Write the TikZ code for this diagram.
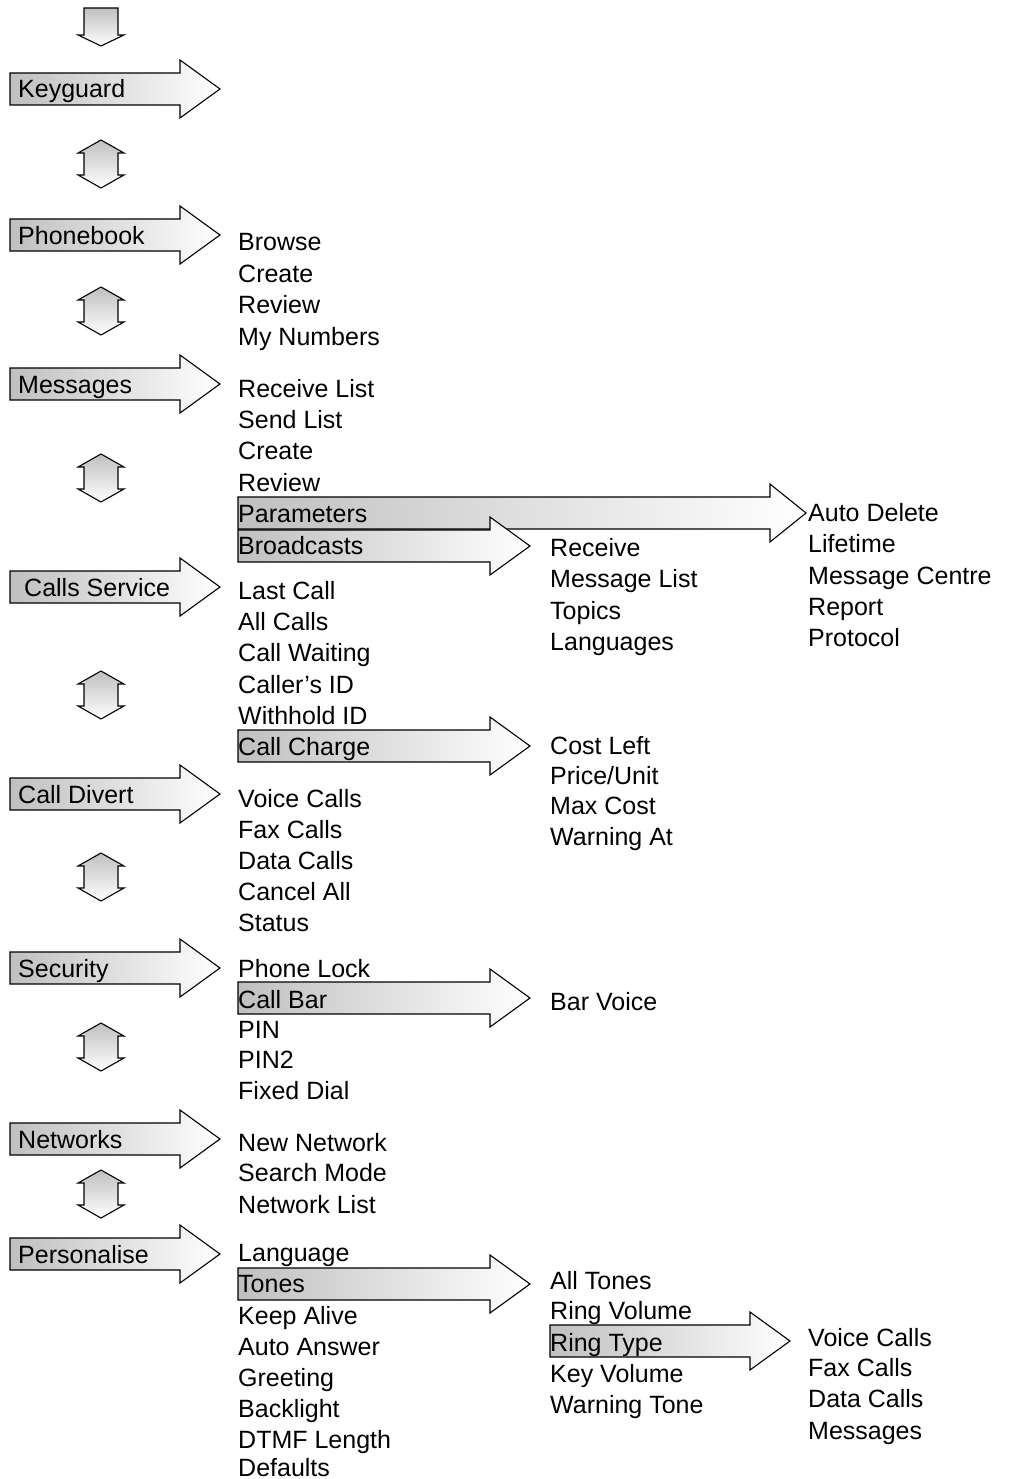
\documentclass[tikz,border=0pt]{standalone}
\usepackage{fontspec}
\setmainfont{Liberation Sans}
\newcommand\hArrowShape[4]{%
  \shadedraw[harrowbox] (#1,#4-16) -- (#2,#4-16) -- (#2,#4-29) -- (#3,#4) -- (#2,#4+29) -- (#2,#4+16) -- (#1,#4+16) -- cycle;}
\newcommand\vDArrowShape[1]{%
  \shadedraw[varrowbox] (101,#1-24) -- (124,#1-11) -- (118,#1-11) -- (118,#1+11) -- (124,#1+11) -- (101,#1+24) -- (78,#1+11) -- (84,#1+11) -- (84,#1-11) -- (78,#1-11) -- cycle;}
\begin{document}
\begin{tikzpicture}[x=1pt,y=-1pt,
  harrowbox/.style={draw=black,line width=1.1pt,line join=miter,left color=gray!50,right color=white},
  varrowbox/.style={draw=black,line width=1.1pt,line join=miter,top color=gray!50,bottom color=white},
  item/.style={anchor=base west,inner sep=0pt,font=\fontsize{25}{30}\selectfont}]
\useasboundingbox (0,0) rectangle (1010,1479);
% top down arrow
\shadedraw[varrowbox] (84,8) -- (118,8) -- (118,35) -- (124,35) -- (101,46) -- (78,35) -- (84,35) -- cycle;
% double arrows
\foreach \c in {164,311,478,695,877,1047,1194} {\vDArrowShape{\c}}
% main arrows
\foreach \c in {89,235,384,587,794,968,1139,1254} {\hArrowShape{10}{180}{220}{\c}}
% sub arrows
\hArrowShape{238}{770}{806}{513}
\hArrowShape{238}{490}{530}{546}
\hArrowShape{238}{490}{530}{746}
\hArrowShape{238}{490}{530}{998}
\hArrowShape{238}{490}{530}{1284}
\hArrowShape{550}{750}{790}{1341}
% main labels
\node[item] (keyguard) at (18,98) {Keyguard};
\node[item] (phonebook) at (18,244) {Phonebook};
\node[item] (messages) at (18,393) {Messages};
\node[item] (callsservice) at (24,596) {Calls Service};
\node[item] (calldivert) at (18,803) {Call Divert};
\node[item] (security) at (18,977) {Security};
\node[item] (networks) at (18,1148) {Networks};
\node[item] (personalise) at (18,1263) {Personalise};
% lists
\foreach \t/\y [count=\i] in {Browse/242,Create/273,Review/304,My Numbers/336}
  {\node[item] (pb\i) at (238,\y+9) {\t};}
\foreach \t/\y [count=\i] in {Receive List/388,Send List/419,Create/450,Review/482,Parameters/513,Broadcasts/545}
  {\node[item] (ms\i) at (238,\y+9) {\t};}
\foreach \t/\y [count=\i] in {Auto Delete/512,Lifetime/543,Message Centre/575,Report/606,Protocol/637}
  {\node[item] (pa\i) at (808,\y+9) {\t};}
\foreach \t/\y [count=\i] in {Receive/547,Message List/578,Topics/610,Languages/641}
  {\node[item] (bc\i) at (550,\y+9) {\t};}
\foreach \t/\y [count=\i] in {Last Call/590,All Calls/621,Call Waiting/652,Caller's ID/684,Withhold ID/715,Call Charge/746}
  {\node[item] (cs\i) at (238,\y+9) {\t};}
\foreach \t/\y [count=\i] in {Cost Left/745,{Price/Unit}/775,Max Cost/805,Warning At/836}
  {\node[item] (cc\i) at (550,\y+9) {\t};}
\foreach \t/\y [count=\i] in {Voice Calls/798,Fax Calls/829,Data Calls/860,Cancel All/891,Status/922}
  {\node[item] (cd\i) at (238,\y+9) {\t};}
\foreach \t/\y [count=\i] in {Phone Lock/968,Call Bar/999,PIN/1029,PIN2/1059,Fixed Dial/1090}
  {\node[item] (se\i) at (238,\y+9) {\t};}
\node[item] (barvoice) at (550,1010) {Bar Voice};
\foreach \t/\y [count=\i] in {New Network/1142,Search Mode/1172,Network List/1204}
  {\node[item] (nw\i) at (238,\y+9) {\t};}
\foreach \t/\y [count=\i] in {Language/1252,Tones/1283,Keep Alive/1315,Auto Answer/1346,Greeting/1377,Backlight/1408,DTMF Length/1439,Defaults/1467}
  {\node[item] (pe\i) at (238,\y+9) {\t};}
\foreach \t/\y [count=\i] in {All Tones/1280,Ring Volume/1310,Ring Type/1342,Key Volume/1373,Warning Tone/1404}
  {\node[item] (to\i) at (550,\y+9) {\t};}
\foreach \t/\y [count=\i] in {Voice Calls/1337,Fax Calls/1367,Data Calls/1398,Messages/1430}
  {\node[item] (rt\i) at (808,\y+9) {\t};}
\end{tikzpicture}
\end{document}
